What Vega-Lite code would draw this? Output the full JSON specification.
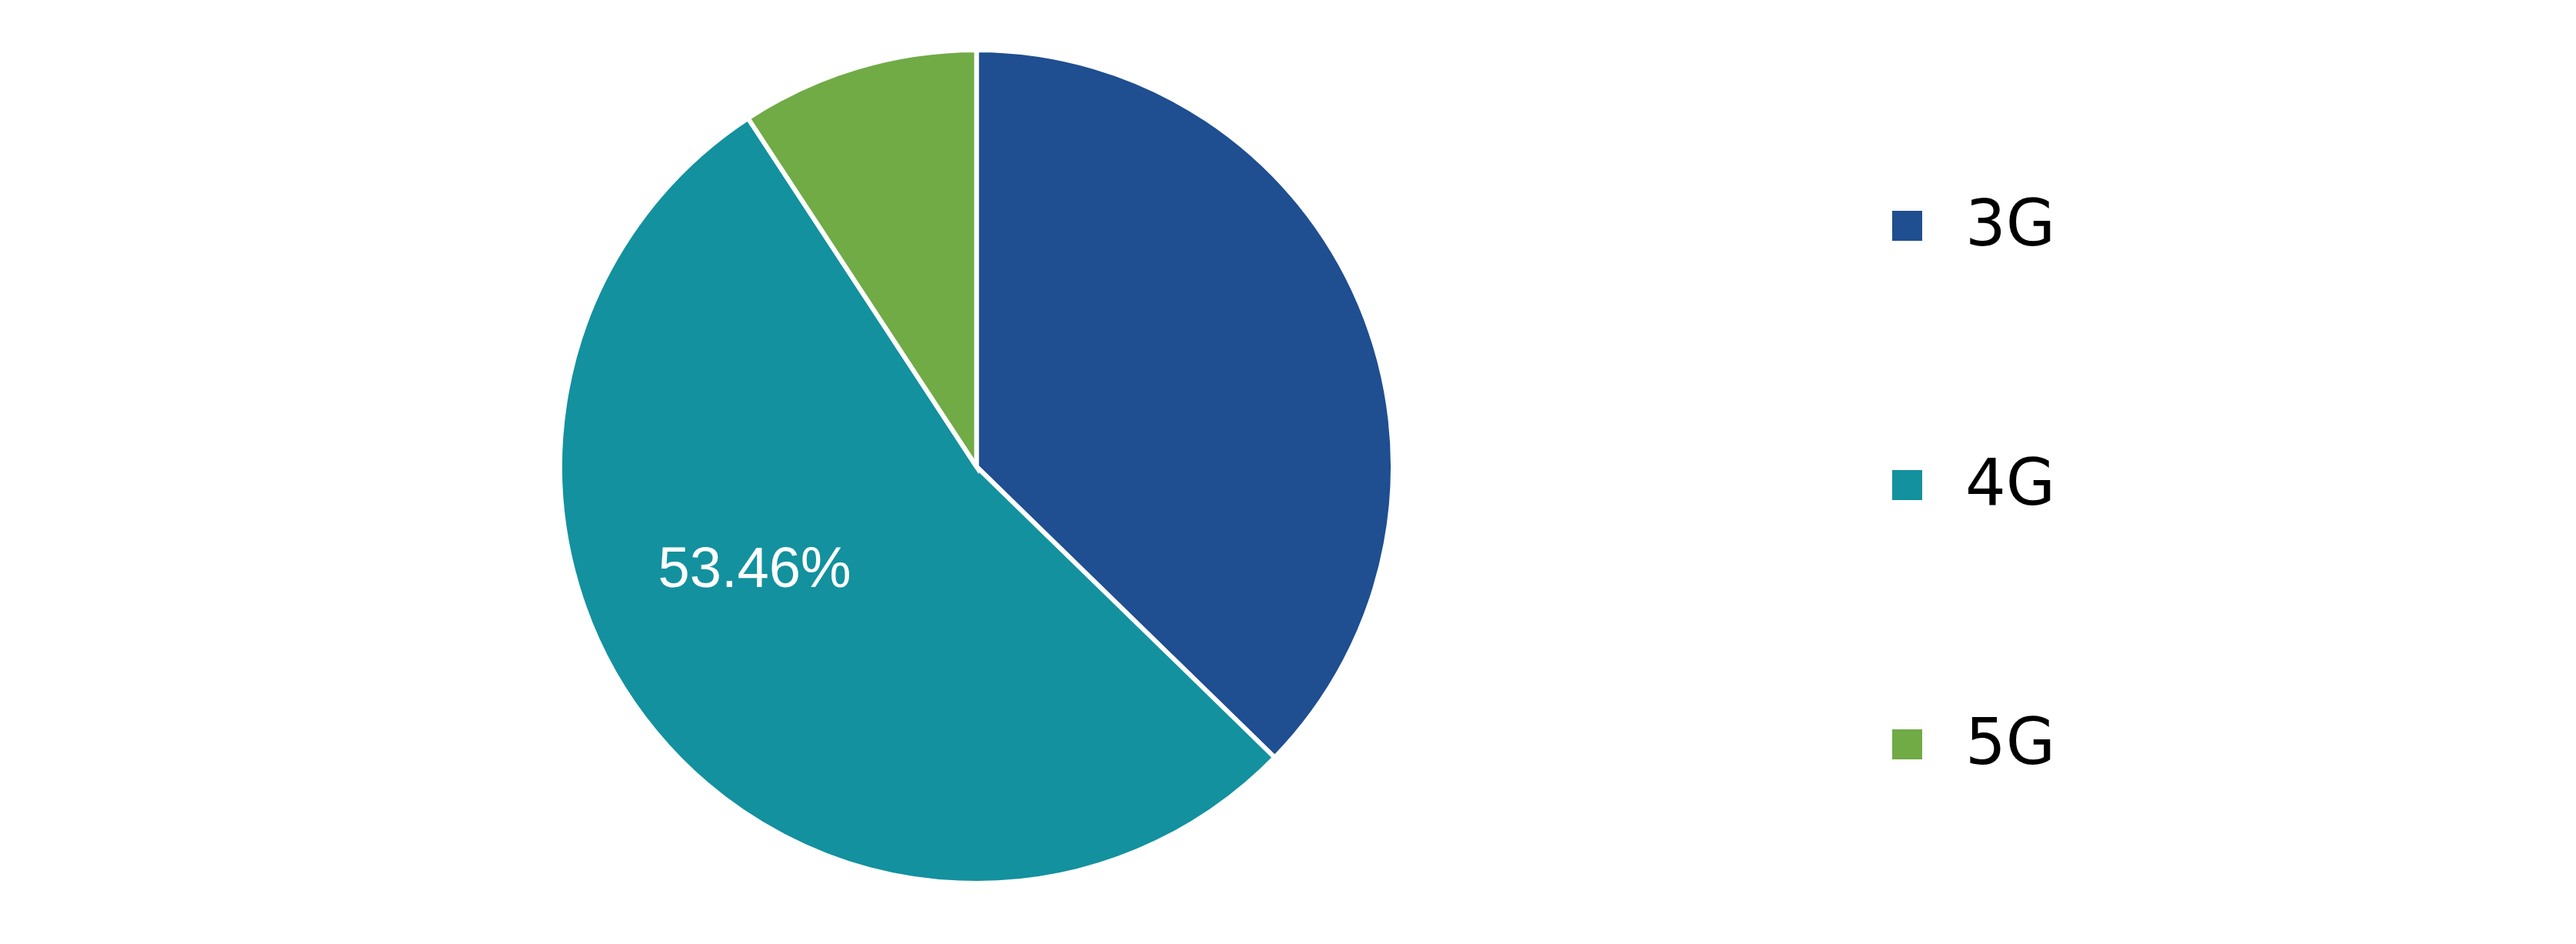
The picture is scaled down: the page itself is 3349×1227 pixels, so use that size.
{
  "$schema": "https://vega.github.io/schema/vega-lite/v6.json",
  "width": 1083,
  "height": 1083,
  "autosize": {"type": "none"},
  "padding": {"left": 728, "top": 65, "right": 1538, "bottom": 79},
  "background": "white",
  "data": {
    "values": [
      {"Network": "3G", "Share": 37.3, "Label": ""},
      {"Network": "4G", "Share": 53.46, "Label": "53.46%"},
      {"Network": "5G", "Share": 9.24, "Label": ""}
    ]
  },
  "encoding": {
    "theta": {"field": "Share", "type": "quantitative", "stack": true},
    "order": {"field": "Network", "type": "ordinal", "sort": "ascending"}
  },
  "layer": [
    {
      "mark": {"type": "arc", "stroke": "white", "strokeWidth": 6},
      "encoding": {
        "color": {
          "field": "Network",
          "type": "nominal",
          "scale": {
            "domain": ["3G", "4G", "5G"],
            "range": ["#1F4E91", "#13919E", "#70AB46"]
          },
          "legend": {
            "title": null,
            "orient": "none",
            "legendX": 1710,
            "legendY": 187,
            "symbolType": "square",
            "symbolSize": 1521,
            "symbolStrokeWidth": 0,
            "symbolOpacity": 1,
            "labelFont": "DejaVu Sans",
            "labelFontSize": 83,
            "labelColor": "black",
            "labelOffset": 34,
            "rowPadding": 253
          }
        }
      }
    },
    {
      "mark": {
        "type": "text",
        "radius": 318,
        "dx": -43,
        "dy": -68,
        "font": "Liberation Sans",
        "fill": "white"
      },
      "encoding": {
        "detail": {"field": "Network", "type": "nominal"},
        "text": {"field": "Label"},
        "size": {"value": 74}
      }
    }
  ],
  "config": {"view": {"stroke": null}}
}
